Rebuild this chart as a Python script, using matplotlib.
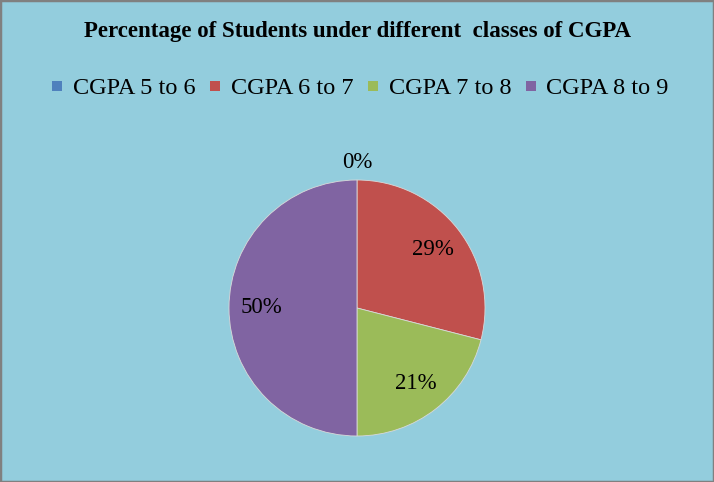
import matplotlib

matplotlib.use("Agg")

import matplotlib.pyplot as plt
import numpy as np
from matplotlib.lines import Line2D
from matplotlib.patches import Rectangle

plt.rcParams["font.family"] = ["Liberation Serif", "DejaVu Serif"]

title = "Percentage of Students under different  classes of CGPA"
classes = ["CGPA 5 to 6", "CGPA 6 to 7", "CGPA 7 to 8", "CGPA 8 to 9"]
shares = [0, 29, 21, 50]
colors = ["#4F81BD", "#C0504D", "#9BBB59", "#8064A2"]
bg = "#93CDDD"

W, H = 714, 482
fig = plt.figure(figsize=(W / 100, H / 100), dpi=100, facecolor=bg)

# border of the chart area
fig.patches.append(Rectangle((0, 0), 1, 1, transform=fig.transFigure,
                             fill=False, edgecolor="#808080", linewidth=2.5))

# pie axes: centre (357, 308) px, radius 128 px
cx, cy, r = 357, 308, 128
ax = fig.add_axes([(cx - r) / W, (H - cy - r) / H, 2 * r / W, 2 * r / H])
ax.set_facecolor(bg)
wedges, _ = ax.pie(shares, colors=colors, startangle=90, counterclock=False,
                   radius=1, wedgeprops=dict(linewidth=0.6, edgecolor="#d9d9d9"))
ax.set_xlim(-1, 1)
ax.set_ylim(-1, 1)
ax.axis("off")

for w, v in zip(wedges, shares):
    ang = np.deg2rad((w.theta1 + w.theta2) / 2)
    d = 1.14 if v == 0 else 0.75
    ax.text(d * np.cos(ang), d * np.sin(ang), f"{v}%", ha="center",
            va="center", fontsize=16.5, color="black", clip_on=False)

fig.text(0.5, 1 - 31 / H, title, ha="center", va="center",
         fontsize=16.5, fontweight="bold")

handles = [Line2D([], [], linestyle="none", marker="s", markersize=7,
                  markerfacecolor=c, markeredgewidth=0) for c in colors]
fig.legend(handles, classes, loc="center", bbox_to_anchor=(0.505, 1 - 88 / H),
           ncol=4, frameon=False, fontsize=17.5, handlelength=0.4,
           handletextpad=0.45, columnspacing=0.6)

fig.savefig("out.png", dpi=100, facecolor=bg)
